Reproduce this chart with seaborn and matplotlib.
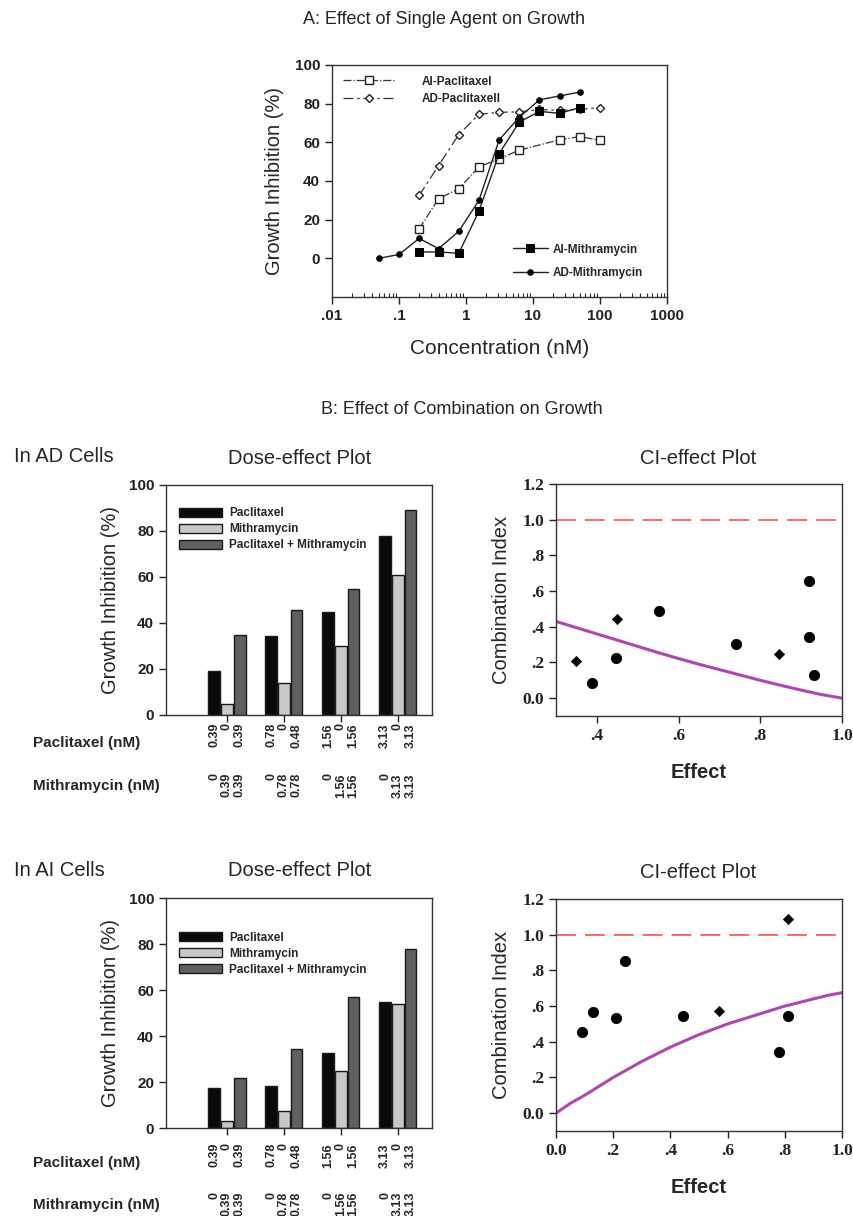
import pandas as pd
import seaborn as sns
import matplotlib.pyplot as plt
from matplotlib.transforms import blended_transform_factory
from matplotlib.ticker import FixedLocator, FixedFormatter, LogLocator, NullFormatter

W, H = 854, 1216

# ---- Panel A: single agent dose-response (concentration nM, growth inhibition %)
conc_ai_pac = [0.2, 0.39, 0.78, 1.56, 3.13, 6.25, 25, 50, 100]
gi_ai_pac = [15.3, 30.8, 36, 47.3, 51.5, 56, 61.3, 63, 61]
conc_ad_pac = [0.2, 0.39, 0.78, 1.56, 3.13, 6.25, 12.5, 25, 50, 100]
gi_ad_pac = [32.6, 48, 64, 74.5, 75.5, 75.8, 77, 76.5, 77, 78]
conc_ai_mith = [0.2, 0.39, 0.78, 1.56, 3.13, 6.25, 12.5, 25, 50]
gi_ai_mith = [3.3, 3.3, 2.6, 24.4, 54.2, 70.5, 76, 75, 78]
conc_ad_mith = [0.05, 0.1, 0.2, 0.39, 0.78, 1.56, 3.13, 6.25, 12.5, 25, 50]
gi_ad_mith = [0, 2, 10.3, 5, 14, 30, 61.3, 73, 82, 84, 86]
a_xticks = [0.01, 0.1, 1, 10, 100, 1000]
a_xticklabels = ['.01', '.1', '1', '10', '100', '1000']

# ---- Panel B: combination dose-effect bars
agents = ['Paclitaxel', 'Mithramycin', 'Paclitaxel + Mithramycin']
dose_groups = ['0.39', '0.78', '1.56', '3.13']
ad_pac = [19, 34.5, 45, 78]
ad_mith = [5, 14, 30, 61]
ad_combo = [35, 45.5, 55, 89]
ai_pac = [17.3, 18.3, 32.7, 54.8]
ai_mith = [3.2, 7.2, 24.9, 54.1]
ai_combo = [21.6, 34.2, 56.8, 78]
pac_dose_labels = ['0.39', '0', '0.39', '0.78', '0', '0.48',
                   '1.56', '0', '1.56', '3.13', '0', '3.13']
mith_dose_labels = ['0', '0.39', '0.39', '0', '0.78', '0.78',
                    '0', '1.56', '1.56', '0', '3.13', '3.13']

# ---- Panel B: CI-effect plots
ad_eff = [0.387, 0.447, 0.553, 0.74, 0.92, 0.92, 0.932]
ad_ci = [0.085, 0.225, 0.49, 0.305, 0.655, 0.34, 0.13]
ad_eff_small = [0.35, 0.45, 0.845]
ad_ci_small = [0.21, 0.445, 0.245]
ad_curve_x = [0.3, 0.35, 0.4, 0.45, 0.5, 0.55, 0.6, 0.65, 0.7, 0.75, 0.8, 0.85, 0.9, 0.95, 1.0]
ad_curve_y = [0.43, 0.395, 0.36, 0.325, 0.29, 0.255, 0.222, 0.19, 0.16, 0.13, 0.1, 0.072, 0.045, 0.02, 0.0]
ai_eff = [0.09, 0.13, 0.21, 0.24, 0.445, 0.78, 0.81]
ai_ci = [0.455, 0.565, 0.535, 0.855, 0.545, 0.345, 0.545]
ai_eff_small = [0.57, 0.81]
ai_ci_small = [0.575, 1.09]
ai_curve_x = [0.0, 0.05, 0.1, 0.15, 0.2, 0.25, 0.3, 0.35, 0.4, 0.45, 0.5,
              0.55, 0.6, 0.65, 0.7, 0.75, 0.8, 0.85, 0.9, 0.95, 1.0]
ai_curve_y = [0.0, 0.055, 0.1, 0.15, 0.2, 0.245, 0.29, 0.33, 0.37, 0.405, 0.44,
              0.47, 0.5, 0.525, 0.55, 0.575, 0.6, 0.62, 0.64, 0.66, 0.675]
ci_yticks = [0.0, 0.2, 0.4, 0.6, 0.8, 1.0, 1.2]
ci_yticklabels = ['0.0', '.2', '.4', '.6', '.8', '1.0', '1.2']

sns.set_theme(style='ticks')
plt.rcParams['font.family'] = ['Liberation Sans', 'DejaVu Sans']
plt.rcParams['axes.linewidth'] = 1.0
plt.rcParams['axes.edgecolor'] = '#333333'

fig = plt.figure(figsize=(W / 100, H / 100), dpi=100)


def px_axes(left, top, right, bottom):
    return fig.add_axes([left / W, 1 - bottom / H, (right - left) / W, (bottom - top) / H])


def fy(y):
    return 1 - y / H


def style_ticks(ax, family='Liberation Sans', size=10.5):
    for lab in ax.get_xticklabels() + ax.get_yticklabels():
        lab.set_fontweight('bold')
        lab.set_family(family)
        lab.set_fontsize(size)
    ax.tick_params(direction='out', length=5, width=1, colors='#222222')


# ===================== Panel A =====================
fig.text(444 / W, fy(20), 'A: Effect of Single Agent on Growth', ha='center', va='center', fontsize=13)
axA = px_axes(332, 65, 667, 297)
sns.lineplot(x=conc_ai_pac, y=gi_ai_pac, ax=axA, color='#333333', linestyle='-.', lw=0.9,
             marker='s', ms=5.2, mfc='white', mec='#222222', mew=1, label='AI-Paclitaxel')
sns.lineplot(x=conc_ad_pac, y=gi_ad_pac, ax=axA, color='#333333', linestyle=(0, (8, 3, 2, 3)), lw=0.9,
             marker='D', ms=4, mfc='white', mec='#222222', mew=1, label='AD-Paclitaxell')
sns.lineplot(x=conc_ai_mith, y=gi_ai_mith, ax=axA, color='#222222', lw=1,
             marker='s', ms=5.2, mfc='black', mec='black', label='AI-Mithramycin')
sns.lineplot(x=conc_ad_mith, y=gi_ad_mith, ax=axA, color='#222222', lw=1,
             marker='o', ms=4, mfc='black', mec='black', label='AD-Mithramycin')
axA.set_xscale('log')
axA.set_xlim(0.01, 1000)
axA.set_ylim(-20, 100)
axA.xaxis.set_major_locator(FixedLocator(a_xticks))
axA.xaxis.set_major_formatter(FixedFormatter(a_xticklabels))
axA.xaxis.set_minor_locator(LogLocator(base=10, subs=range(2, 10), numticks=20))
axA.xaxis.set_minor_formatter(NullFormatter())
axA.set_yticks([0, 20, 40, 60, 80, 100])
style_ticks(axA, size=11)
axA.tick_params(axis='x', which='minor', direction='in', length=3, width=0.8)
axA.set_xlabel('Concentration (nM)', fontsize=15, labelpad=12)
axA.set_ylabel('Growth Inhibition (%)', fontsize=14.5, labelpad=8)
hA, lA = axA.get_legend_handles_labels()
legA1 = axA.legend(hA[:2], lA[:2], loc='upper left', bbox_to_anchor=(0.0, 1.0), frameon=False,
                   handlelength=4.5, handletextpad=2.2, labelspacing=0.45,
                   prop={'weight': 'bold', 'size': 8.5})
axA.add_artist(legA1)
axA.legend(hA[2:], lA[2:], loc='lower right', bbox_to_anchor=(0.96, 0.03), frameon=False,
           handlelength=3.0, handletextpad=0.4, labelspacing=1.0,
           prop={'weight': 'bold', 'size': 8.5})

fig.text(462 / W, fy(410), 'B: Effect of Combination on Growth', ha='center', va='center', fontsize=13)

# ===================== Panel B =====================
palette = ['#0a0a0a', '#c8c8c8', '#606060']


def dose_panel(top, pac, mith, combo, cell_label, legend_y, lab_row1, lab_row2):
    fig.text(14 / W, fy(top - 28), cell_label, ha='left', va='center', fontsize=14.5)
    fig.text(300 / W, fy(top - 27), 'Dose-effect Plot', ha='center', va='center', fontsize=14.5)
    ax = px_axes(166, top, 432, top + 230)
    df = pd.DataFrame({
        'group': dose_groups * 3,
        'agent': [a for a in agents for _ in dose_groups],
        'value': pac + mith + combo,
    })
    sns.barplot(data=df, x='group', y='value', hue='agent', hue_order=agents, palette=palette,
                edgecolor='#1a1a1a', linewidth=1, width=0.67, gap=0.08, saturation=1, ax=ax)
    ax.set_xlim(-1.07, 3.6)
    ax.set_ylim(0, 100)
    ax.set_yticks([0, 20, 40, 60, 80, 100])
    ax.set_xticks(range(len(dose_groups)))
    ax.set_xticklabels([])
    ax.set_xlabel('')
    ax.set_ylabel('Growth Inhibition (%)', fontsize=14.5, labelpad=6)
    style_ticks(ax, size=11)
    ax.legend(loc='upper left', bbox_to_anchor=(0.01, legend_y), frameon=False,
              handlelength=3.6, handleheight=0.8, handletextpad=0.6, labelspacing=0.35,
              prop={'weight': 'bold', 'size': 8.5})
    # dose labels under every bar
    bars = sorted([p for c in ax.containers for p in c], key=lambda p: p.get_x())
    tr = blended_transform_factory(ax.transData, fig.transFigure)
    for bar, t1, t2 in zip(bars, pac_dose_labels, mith_dose_labels):
        xc = bar.get_x() + bar.get_width() / 2
        ax.text(xc, fy(lab_row1), t1, transform=tr, rotation=90, ha='center', va='top',
                fontsize=9, fontweight='bold', clip_on=False)
        ax.text(xc, fy(lab_row2), t2, transform=tr, rotation=90, ha='center', va='top',
                fontsize=9, fontweight='bold', clip_on=False)
    fig.text(33 / W, fy(lab_row1 + 20), 'Paclitaxel (nM)', ha='left', va='center',
             fontsize=11, fontweight='bold')
    fig.text(33 / W, fy(lab_row2 + 13), 'Mithramycin (nM)', ha='left', va='center',
             fontsize=11, fontweight='bold')
    return ax


def ci_panel(top, eff, ci, eff_s, ci_s, cx, cy, xlim, xticks, xticklabels):
    fig.text(698 / W, fy(top - 26), 'CI-effect Plot', ha='center', va='center', fontsize=14.5)
    ax = px_axes(556, top, 842, top + 232)
    ax.axhline(1.0, color='#ff5a5a', lw=1.3, dashes=(11, 5))
    sns.lineplot(x=cx, y=cy, ax=ax, color='#b046b0', lw=2.2)
    sns.scatterplot(x=eff, y=ci, ax=ax, color='black', s=55, marker='o', edgecolor='black')
    sns.scatterplot(x=eff_s, y=ci_s, ax=ax, color='black', s=28, marker='D', edgecolor='black')
    ax.set_xlim(*xlim)
    ax.set_ylim(-0.1, 1.2)
    ax.set_xticks(xticks)
    ax.set_xticklabels(xticklabels)
    ax.set_yticks(ci_yticks)
    ax.set_yticklabels(ci_yticklabels)
    style_ticks(ax, family='Liberation Serif', size=12.5)
    ax.set_xlabel('Effect', fontsize=14.5, fontweight='bold', labelpad=14)
    ax.set_ylabel('Combination Index', fontsize=14.5, labelpad=8)
    return ax


dose_panel(485, ad_pac, ad_mith, ad_combo, 'In AD Cells', 0.95, 723, 773)
ci_panel(484, ad_eff, ad_ci, ad_eff_small, ad_ci_small, ad_curve_x, ad_curve_y,
         (0.3, 1.0), [0.4, 0.6, 0.8, 1.0], ['.4', '.6', '.8', '1.0'])

dose_panel(898, ai_pac, ai_mith, ai_combo, 'In AI Cells', 0.9, 1143, 1192)
ci_panel(899, ai_eff, ai_ci, ai_eff_small, ai_ci_small, ai_curve_x, ai_curve_y,
         (0.0, 1.0), [0.0, 0.2, 0.4, 0.6, 0.8, 1.0], ['0.0', '.2', '.4', '.6', '.8', '1.0'])

fig.savefig('out.png', dpi=100, facecolor='white')
plt.close(fig)
